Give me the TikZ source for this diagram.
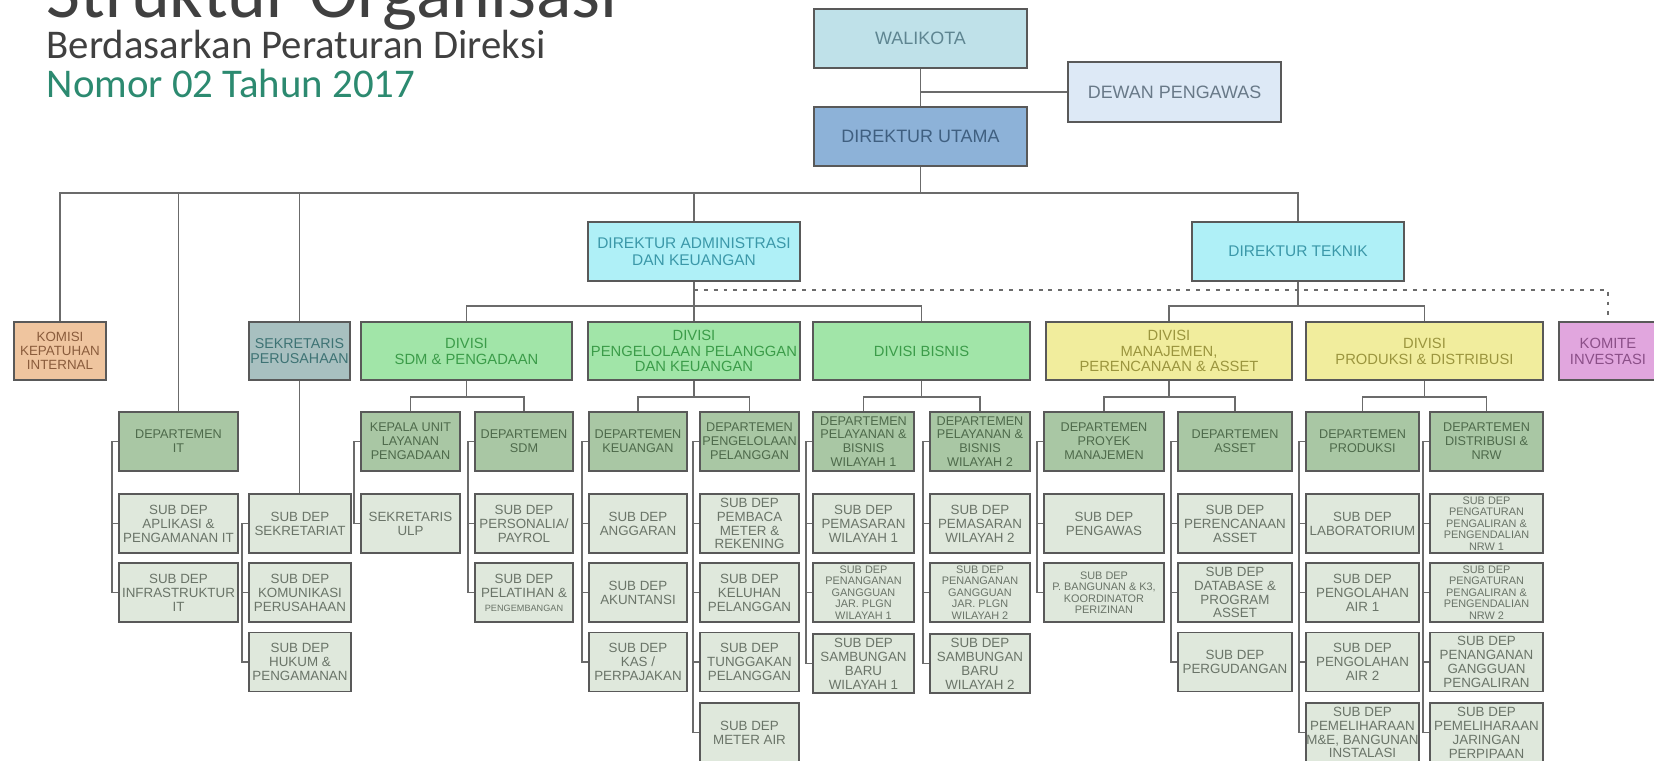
\documentclass[tikz,border=0pt]{standalone}
\usepackage{fontspec}
\setmainfont{Liberation Sans}
\newfontfamily\titlefont{Carlito}

\definecolor{boxline}{HTML}{595959}
\definecolor{connline}{HTML}{6B6B6B}
\definecolor{titlegray}{HTML}{404040}
\definecolor{nomorteal}{HTML}{2C8A70}
\definecolor{walifill}{HTML}{BFE1E9}
\definecolor{walitext}{HTML}{5E8591}
\definecolor{dewanfill}{HTML}{DDE9F6}
\definecolor{dewantext}{HTML}{687988}
\definecolor{dirutfill}{HTML}{8DB2D8}
\definecolor{diruttext}{HTML}{3F5F80}
\definecolor{dirfill}{HTML}{AFF0F7}
\definecolor{dirtext}{HTML}{3B98A9}
\definecolor{komisifill}{HTML}{EFC59F}
\definecolor{komisitext}{HTML}{8A5C3C}
\definecolor{sekfill}{HTML}{A8C0C0}
\definecolor{sektext}{HTML}{3E7374}
\definecolor{greenfill}{HTML}{A1E5A8}
\definecolor{greentext}{HTML}{3B9C49}
\definecolor{yellowfill}{HTML}{F1ED9D}
\definecolor{yellowtext}{HTML}{9B953E}
\definecolor{komitefill}{HTML}{E1A6DE}
\definecolor{komitetext}{HTML}{8B4F88}
\definecolor{depfill}{HTML}{A9C7A4}
\definecolor{deptext}{HTML}{4E6A4B}
\definecolor{subfill}{HTML}{DFE8DC}
\definecolor{subtext}{HTML}{6A7468}

\begin{document}
\begin{tikzpicture}[x=0.01cm, y=-0.01cm,
    box/.style={draw=boxline, line width=0.55pt, inner sep=0pt, align=center, minimum height=0.59cm},
    conn/.style={draw=connline, line width=0.45pt},
    dotline/.style={draw=connline, line width=0.5pt, dash pattern=on 1.1pt off 1.7pt},
    topbox/.style={box, minimum width=2.13cm, font=\fontsize{5.1}{5.9}\selectfont},
    dirbox/.style={box, fill=dirfill, text=dirtext, minimum width=2.12cm, font=\fontsize{4.4}{5.0}\selectfont},
    divbox/.style={box, minimum height=0.58cm, font=\fontsize{4.2}{4.5}\selectfont},
    greendiv/.style={divbox, fill=greenfill, text=greentext},
    yellowdiv/.style={divbox, fill=yellowfill, text=yellowtext},
    depbox/.style={box, fill=depfill, text=deptext, font=\fontsize{3.6}{3.95}\selectfont},
    subbox/.style={box, fill=subfill, text=subtext, font=\fontsize{3.8}{3.95}\selectfont},
    tinysub/.style={subbox, font=\fontsize{3.1}{3.25}\selectfont}]
  \useasboundingbox (0,0) rectangle (1654,760);
  \fill[white] (0,0) rectangle (1654,760);

  % judul
  \node[anchor=base west, inner sep=0pt, text=titlegray, font=\titlefont\fontsize{21}{25}\selectfont] (title) at (46,17) {Struktur Organisasi};
  \node[anchor=base west, inner sep=0pt, text=titlegray, font=\titlefont\fontsize{11.6}{14}\selectfont] (subtitle) at (46,58) {Berdasarkan Peraturan Direksi};
  \node[anchor=base west, inner sep=0pt, text=nomorteal, font=\titlefont\fontsize{11.6}{14}\selectfont] (nomor) at (46,97) {Nomor 02 Tahun 2017};

  % pimpinan
  \node[topbox, fill=walifill, text=walitext] (walikota) at (920.5,38.5) {WALIKOTA};
  \node[topbox, fill=dewanfill, text=dewantext, minimum height=0.6cm] (dewan) at (1174.5,92) {DEWAN PENGAWAS};
  \node[topbox, fill=dirutfill, text=diruttext] (dirut) at (920.5,136.5) {DIREKTUR UTAMA};
  \node[dirbox] (dirak) at (694,251.5) {DIREKTUR ADMINISTRASI\\DAN KEUANGAN};
  \node[dirbox] (dirtek) at (1298,251.5) {DIREKTUR TEKNIK};

  % divisi
  \node[divbox, fill=komisifill, text=komisitext, minimum width=0.92cm, font=\fontsize{3.8}{3.95}\selectfont] (komisi) at (60,351) {KOMISI\\KEPATUHAN\\INTERNAL};
  \node[divbox, fill=sekfill, text=sektext, minimum width=1.01cm, font=\fontsize{4.05}{4.5}\selectfont] (sekper) at (299.5,351) {SEKRETARIS\\PERUSAHAAN};
  \node[greendiv, minimum width=2.11cm] (vSDM) at (466.5,351) {DIVISI\\SDM \& PENGADAAN};
  \node[greendiv, minimum width=2.12cm] (vPPK) at (694,351) {DIVISI\\PENGELOLAAN PELANGGAN\\DAN KEUANGAN};
  \node[greendiv, minimum width=2.17cm] (vBIS) at (921.5,351) {DIVISI BISNIS};
  \node[yellowdiv, minimum width=2.46cm] (vMPA) at (1169,351) {DIVISI\\MANAJEMEN,\\PERENCANAAN \& ASSET};
  \node[yellowdiv, minimum width=2.37cm] (vPD) at (1424.5,351) {DIVISI\\PRODUKSI \& DISTRIBUSI};
  \node[divbox, fill=komitefill, text=komitetext, minimum width=0.98cm] (komite) at (1608,351) {KOMITE\\INVESTASI};

  % departemen
  \node[depbox, minimum width=1.19cm] (dIT) at (178.5,441.5) {DEPARTEMEN\\IT};
  \node[depbox, minimum width=0.99cm] (dKUL) at (410.5,441.5) {KEPALA UNIT\\LAYANAN\\PENGADAAN};
  \node[depbox, minimum width=0.98cm] (dSDM) at (524,441.5) {DEPARTEMEN\\SDM};
  \node[depbox, minimum width=0.98cm] (dKEU) at (638,441.5) {DEPARTEMEN\\KEUANGAN};
  \node[depbox, minimum width=0.99cm] (dPEL) at (749.5,441.5) {DEPARTEMEN\\PENGELOLAAN\\PELANGGAN};
  \node[depbox, minimum width=1.01cm] (dPB1) at (863.5,441.5) {DEPARTEMEN\\PELAYANAN \&\\BISNIS\\WILAYAH 1};
  \node[depbox, minimum width=1.00cm] (dPB2) at (980,441.5) {DEPARTEMEN\\PELAYANAN \&\\BISNIS\\WILAYAH 2};
  \node[depbox, minimum width=1.20cm] (dPM) at (1104,441.5) {DEPARTEMEN\\PROYEK\\MANAJEMEN};
  \node[depbox, minimum width=1.14cm] (dAS) at (1235,441.5) {DEPARTEMEN\\ASSET};
  \node[depbox, minimum width=1.13cm] (dPR) at (1362.5,441.5) {DEPARTEMEN\\PRODUKSI};
  \node[depbox, minimum width=1.13cm] (dDN) at (1486.5,441.5) {DEPARTEMEN\\DISTRIBUSI \&\\NRW};

  % sub departemen
  \node[subbox, minimum width=1.19cm] (sIT1) at (178.5,523.5) {SUB DEP\\APLIKASI \&\\PENGAMANAN IT};
  \node[subbox, minimum width=1.19cm] (sIT2) at (178.5,592.5) {SUB DEP\\INFRASTRUKTUR\\IT};
  \node[subbox, minimum width=1.02cm] (sSK1) at (300,523.5) {SUB DEP\\SEKRETARIAT};
  \node[subbox, minimum width=1.02cm] (sSK2) at (300,592.5) {SUB DEP\\KOMUNIKASI\\PERUSAHAAN};
  \node[subbox, minimum width=1.02cm] (sSK3) at (300,662) {SUB DEP\\HUKUM \&\\PENGAMANAN};
  \node[subbox, minimum width=0.99cm] (sKUL1) at (410.5,523.5) {SEKRETARIS\\ULP};
  \node[subbox, minimum width=0.98cm] (sSDM1) at (524,523.5) {SUB DEP\\PERSONALIA/\\PAYROL};
  \node[subbox, minimum width=0.98cm] (sSDM2) at (524,592.5) {SUB DEP\\PELATIHAN \&\\{\fontsize{2.6}{2.9}\selectfont PENGEMBANGAN}};
  \node[subbox, minimum width=0.98cm] (sKEU1) at (638,523.5) {SUB DEP\\ANGGARAN};
  \node[subbox, minimum width=0.98cm] (sKEU2) at (638,592.5) {SUB DEP\\AKUNTANSI};
  \node[subbox, minimum width=0.98cm] (sKEU3) at (638,662) {SUB DEP\\KAS /\\PERPAJAKAN};
  \node[subbox, minimum width=0.99cm] (sPEL1) at (749.5,523.5) {SUB DEP\\PEMBACA\\METER \&\\REKENING};
  \node[subbox, minimum width=0.99cm] (sPEL2) at (749.5,592.5) {SUB DEP\\KELUHAN\\PELANGGAN};
  \node[subbox, minimum width=0.99cm] (sPEL3) at (749.5,662) {SUB DEP\\TUNGGAKAN\\PELANGGAN};
  \node[subbox, minimum width=0.99cm] (sPEL4) at (749.5,732.5) {SUB DEP\\METER AIR};
  \node[subbox, minimum width=1.01cm] (sPBa1) at (863.5,523.5) {SUB DEP\\PEMASARAN\\WILAYAH 1};
  \node[tinysub, minimum width=1.01cm] (sPBa2) at (863.5,592.5) {SUB DEP\\PENANGANAN\\GANGGUAN\\JAR. PLGN\\WILAYAH 1};
  \node[subbox, minimum width=1.01cm] (sPBa3) at (863.5,663.5) {SUB DEP\\SAMBUNGAN\\BARU\\WILAYAH 1};
  \node[subbox, minimum width=1.00cm] (sPBb1) at (980,523.5) {SUB DEP\\PEMASARAN\\WILAYAH 2};
  \node[tinysub, minimum width=1.00cm] (sPBb2) at (980,592.5) {SUB DEP\\PENANGANAN\\GANGGUAN\\JAR. PLGN\\WILAYAH 2};
  \node[subbox, minimum width=1.00cm] (sPBb3) at (980,663.5) {SUB DEP\\SAMBUNGAN\\BARU\\WILAYAH 2};
  \node[subbox, minimum width=1.20cm] (sPM1) at (1104,523.5) {SUB DEP\\PENGAWAS};
  \node[tinysub, minimum width=1.20cm] (sPM2) at (1104,592.5) {SUB DEP\\P. BANGUNAN \& K3,\\KOORDINATOR\\PERIZINAN};
  \node[subbox, minimum width=1.14cm] (sAS1) at (1235,523.5) {SUB DEP\\PERENCANAAN\\ASSET};
  \node[subbox, minimum width=1.14cm] (sAS2) at (1235,592.5) {SUB DEP\\DATABASE \&\\PROGRAM\\ASSET};
  \node[subbox, minimum width=1.14cm] (sAS3) at (1235,662) {SUB DEP\\PERGUDANGAN};
  \node[subbox, minimum width=1.13cm] (sPR1) at (1362.5,523.5) {SUB DEP\\LABORATORIUM};
  \node[subbox, minimum width=1.13cm] (sPR2) at (1362.5,592.5) {SUB DEP\\PENGOLAHAN\\AIR 1};
  \node[subbox, minimum width=1.13cm] (sPR3) at (1362.5,662) {SUB DEP\\PENGOLAHAN\\AIR 2};
  \node[subbox, minimum width=1.13cm] (sPR4) at (1362.5,732.5) {SUB DEP\\PEMELIHARAAN\\M\&E, BANGUNAN\\INSTALASI};
  \node[tinysub, minimum width=1.13cm] (sDN1) at (1486.5,523.5) {SUB DEP\\PENGATURAN\\PENGALIRAN \&\\PENGENDALIAN\\NRW 1};
  \node[tinysub, minimum width=1.13cm] (sDN2) at (1486.5,592.5) {SUB DEP\\PENGATURAN\\PENGALIRAN \&\\PENGENDALIAN\\NRW 2};
  \node[subbox, minimum width=1.13cm] (sDN3) at (1486.5,662) {SUB DEP\\PENANGANAN\\GANGGUAN\\PENGALIRAN};
  \node[subbox, minimum width=1.13cm] (sDN4) at (1486.5,732.5) {SUB DEP\\PEMELIHARAAN\\JARINGAN\\PERPIPAAN};

  % garis
  \draw[conn] (walikota) -- (dirut);
  \draw[conn] (dewan.west) -- (dewan.west -| walikota.south);
  \coordinate (bus) at (920.5,193);
  \draw[conn] (dirut.south) -- (bus);
  \foreach \n in {komisi,dIT,sekper,dirak,dirtek}
    \draw[conn] (bus) -| (\n.north);
  \draw[conn] (sekper.south) -- (sekper.south |- sSK1.north);

  \coordinate (akbus) at (694,306);
  \draw[conn] (dirak.south) -- (akbus);
  \foreach \n in {vSDM,vPPK,vBIS}
    \draw[conn] (akbus) -| (\n.north);
  \coordinate (tkbus) at (1298,306);
  \draw[conn] (dirtek.south) -- (tkbus);
  \foreach \n in {vMPA,vPD}
    \draw[conn] (tkbus) -| (\n.north);
  \coordinate (dotfork) at (694,290);
  \draw[dotline] (dotfork) -| (komite.north);

  \foreach \v/\a/\b in {vSDM/dKUL/dSDM, vPPK/dKEU/dPEL, vBIS/dPB1/dPB2, vMPA/dPM/dAS, vPD/dPR/dDN}
    \draw[conn] (\v.south) -- ++(0,16) -| (\a.north) (\v.south) ++(0,16) -| (\b.north);

  \foreach \t/\l in {dIT/sIT2, sSK1/sSK3, dKUL/sKUL1, dSDM/sSDM2, dKEU/sKEU3, dPEL/sPEL4, dPB1/sPBa3, dPB2/sPBb3, dPM/sPM2, dAS/sAS3, dPR/sPR4, dDN/sDN4}
    \draw[conn] (\t.west) -- ++(-6,0) |- (\l.west);
  \foreach \n in {sIT1, sSK2, sSDM1, sKEU1, sKEU2, sPEL1, sPEL2, sPEL3, sPBa1, sPBa2, sPBb1, sPBb2, sPM1, sAS1, sAS2, sPR1, sPR2, sPR3, sDN1, sDN2, sDN3}
    \draw[conn] (\n.west) -- ++(-6,0);
\end{tikzpicture}
\end{document}
